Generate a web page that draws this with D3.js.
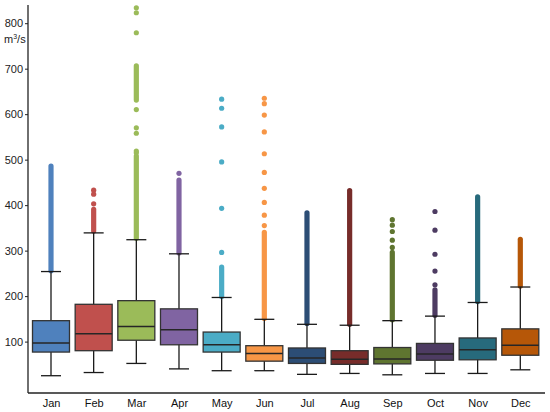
<!DOCTYPE html>
<html>
<head>
<meta charset="utf-8">
<script src="https://cdn.jsdelivr.net/npm/d3@7"></script>
<style>
  html, body { margin: 0; padding: 0; background: #fff; }
  svg { display: block; font-family: "Liberation Sans", Arial, sans-serif; }
</style>
</head>
<body>
<div id="chart"></div>
<script>
const months = ["Jan", "Feb", "Mar", "Apr", "May", "Jun", "Jul", "Aug", "Sep", "Oct", "Nov", "Dec"];
const colors = ["#4f81bd", "#c0504d", "#9bbb59", "#8064a2", "#4bacc6", "#f79646",
                "#2c4d75", "#772c2a", "#5f7530", "#4d3b62", "#276a7c", "#b65708"];

// box statistics, m3/s
const whiskerLow = [25, 32, 52, 40, 36, 36, 28, 30, 27, 30, 30, 38];
const q1 = [77, 80, 103, 93, 77, 57, 52, 50, 51, 59, 60, 70];
const median = [97, 117, 133, 126, 93, 74, 64, 61, 62, 73, 82, 92];
const q3 = [146, 182, 190, 172, 121, 91, 86, 80, 87, 96, 108, 128];
const whiskerHigh = [254, 339, 324, 293, 197, 149, 138, 136, 146, 156, 186, 220];

// dense stretches of outliers (drawn as a continuous column of dots)
const outlierRuns = [
  [[256, 486]],
  [[343, 391]],
  [[327, 508], [631, 706]],
  [[295, 455]],
  [[199, 264]],
  [[151, 340]],
  [[140, 383]],
  [[138, 432]],
  [[148, 296]],
  [[158, 214]],
  [[188, 418]],
  [[222, 325]]
];
// isolated outliers
const outlierPoints = [
  [],
  [403, 424, 433],
  [515, 519, 558, 570, 610, 779, 823, 834],
  [470],
  [296, 393, 495, 572, 613, 633],
  [355, 378, 406, 437, 472, 513, 561, 598, 623, 635],
  [],
  [],
  [307, 323, 342, 356, 368],
  [225, 255, 292, 345, 386],
  [],
  []
];
const yTicks = [100, 200, 300, 400, 500, 600, 700, 800];

const width = 550;
const height = 412;
const plotLeft = 28, plotRight = 545, plotTop = 5, plotBottom = 393;
const boxW = 37, capW = 20, dotR = 2.6;

const x = d3.scalePoint().domain(months).range([51, 520.3]);
const y = d3.scaleLinear().domain([-13, 840]).range([plotBottom, plotTop]);

const svg = d3.select("#chart").append("svg")
  .attr("width", width)
  .attr("height", height);

const stats = months.map((m, i) => ({
  month: m, color: colors[i],
  lo: whiskerLow[i], q1: q1[i], med: median[i], q3: q3[i], hi: whiskerHigh[i],
  runs: outlierRuns[i], points: outlierPoints[i]
}));

// outliers
const out = svg.append("g");
stats.forEach((d) => {
  const cx = x(d.month);
  out.selectAll(null)
    .data(d.runs)
    .join("line")
    .attr("x1", cx).attr("x2", cx)
    .attr("y1", (r) => y(r[0]))
    .attr("y2", (r) => y(r[1]))
    .attr("stroke", d.color)
    .attr("stroke-width", dotR * 2)
    .attr("stroke-linecap", "round");
  out.selectAll(null)
    .data(d.points)
    .join("circle")
    .attr("cx", cx)
    .attr("cy", (v) => y(v))
    .attr("r", dotR)
    .attr("fill", d.color);
});

// whiskers
const wh = svg.append("g").attr("stroke", "#1a1a1a").attr("stroke-width", 1.3);
wh.selectAll(".stem")
  .data(stats)
  .join("line")
  .attr("x1", (d) => x(d.month)).attr("x2", (d) => x(d.month))
  .attr("y1", (d) => y(d.lo)).attr("y2", (d) => y(d.hi));
wh.selectAll(".caplo")
  .data(stats)
  .join("line")
  .attr("x1", (d) => x(d.month) - capW / 2).attr("x2", (d) => x(d.month) + capW / 2)
  .attr("y1", (d) => y(d.lo)).attr("y2", (d) => y(d.lo));
wh.selectAll(".caphi")
  .data(stats)
  .join("line")
  .attr("x1", (d) => x(d.month) - capW / 2).attr("x2", (d) => x(d.month) + capW / 2)
  .attr("y1", (d) => y(d.hi)).attr("y2", (d) => y(d.hi));

// boxes
const boxes = svg.append("g");
boxes.selectAll("rect")
  .data(stats)
  .join("rect")
  .attr("x", (d) => x(d.month) - boxW / 2)
  .attr("width", boxW)
  .attr("y", (d) => y(d.q3))
  .attr("height", (d) => y(d.q1) - y(d.q3))
  .attr("fill", (d) => d.color)
  .attr("stroke", "#333")
  .attr("stroke-width", 1.3);
boxes.selectAll("line")
  .data(stats)
  .join("line")
  .attr("x1", (d) => x(d.month) - boxW / 2).attr("x2", (d) => x(d.month) + boxW / 2)
  .attr("y1", (d) => y(d.med)).attr("y2", (d) => y(d.med))
  .attr("stroke", "#262626")
  .attr("stroke-width", 1.5);

// axes
const yAxis = svg.append("g")
  .attr("transform", `translate(${plotLeft},0)`)
  .call(d3.axisLeft(y).tickValues(yTicks).tickSize(3).tickPadding(2));
yAxis.select(".domain").remove();
yAxis.selectAll("text").attr("font-size", 11).attr("fill", "#222")
  .attr("font-family", "Liberation Sans, Arial, sans-serif");
yAxis.selectAll("line").attr("stroke", "#222");

const xAxis = svg.append("g")
  .attr("transform", `translate(0,${plotBottom})`)
  .call(d3.axisBottom(x).tickSize(0).tickPadding(6));
xAxis.select(".domain").remove();
xAxis.selectAll("text").attr("font-size", 11).attr("fill", "#111")
  .attr("font-family", "Liberation Sans, Arial, sans-serif");

svg.append("line")
  .attr("x1", plotLeft).attr("x2", plotLeft)
  .attr("y1", plotTop).attr("y2", plotBottom)
  .attr("stroke", "#222").attr("stroke-width", 1.3);
svg.append("line")
  .attr("x1", plotLeft).attr("x2", plotRight)
  .attr("y1", plotBottom).attr("y2", plotBottom)
  .attr("stroke", "#222").attr("stroke-width", 1.3);

// unit label
const unit = svg.append("text")
  .attr("x", 4)
  .attr("y", 43)
  .attr("font-size", 11)
  .attr("fill", "#222");
unit.append("tspan").text("m");
unit.append("tspan").attr("font-size", 7).attr("dy", -4).text("3");
unit.append("tspan").attr("dy", 4).text("/s");
</script>
</body>
</html>
